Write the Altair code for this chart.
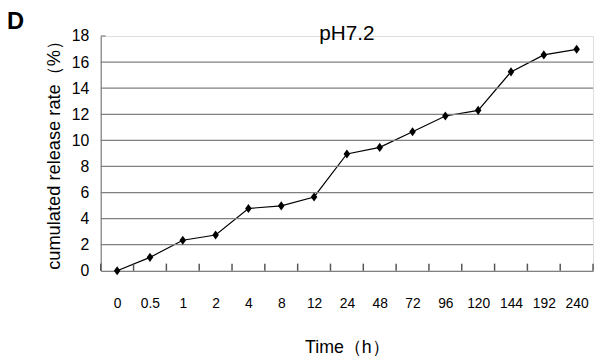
import altair as alt
import pandas as pd

categories = ["0", "0.5", "1", "2", "4", "8", "12", "24", "48", "72", "96", "120", "144", "192", "240"]
release = [0.0, 1.03, 2.34, 2.74, 4.78, 4.98, 5.66, 8.96, 9.46, 10.66, 11.87, 12.3, 15.25, 16.55, 16.98]
grid_values = [2, 4, 6, 8, 10, 12, 14, 16]
y_ticks = [0, 2, 4, 6, 8, 10, 12, 14, 16, 18]

n = len(categories)
idx = list(range(n))
df = pd.DataFrame({"i": idx, "time": categories, "rate": release})
bounds_df = pd.DataFrame({"i": [k - 0.5 for k in range(n + 1)], "rate": [0] * (n + 1)})
grid_df = pd.DataFrame({"rate": grid_values})
top_df = pd.DataFrame({"rate": [18]})

W, H = 499, 238
FONT = "Liberation Sans"
NARROW = "Liberation Sans Narrow, Liberation Sans"
GRAY = "#808080"

label_js = "[" + ",".join('"%s"' % c for c in categories) + "][datum.value]"

xscale = alt.Scale(domain=[-0.5, n - 0.5], nice=False, zero=False)
yscale = alt.Scale(domain=[0, 18], nice=False, zero=True)

x_axis = alt.Axis(title="Time（h）", values=idx, labelExpr=label_js, labelAngle=0,
                  labelFontSize=14, labelFont=FONT, labelColor="#000000",
                  labelPadding=26, labelOverlap=False, labelFlush=False, ticks=False,
                  domainColor=GRAY, domainWidth=1.2, titleFont=NARROW, titleFontSize=18,
                  titleFontWeight="normal", titleColor="#000000", titleY=83,
                  titleBaseline="alphabetic", grid=False)
y_axis = alt.Axis(title="cumulated release rate（%）", values=y_ticks, labelFontSize=16,
                  labelFont=FONT, labelColor="#000000", labelPadding=12, ticks=False,
                  labelOverlap=False, labelFlush=False,
                  domainColor=GRAY, domainWidth=1.2, grid=False, titleFont=FONT,
                  titleFontSize=18.5, titleFontWeight="normal", titleColor="#000000",
                  titleX=-48, titleY=116, titleAngle=-90, titleAlign="center",
                  titleBaseline="middle")

X = lambda: alt.X("i:Q", scale=xscale, axis=x_axis)
Y = lambda: alt.Y("rate:Q", scale=yscale, axis=y_axis)

line = alt.Chart(df).mark_line(color="#000000", strokeWidth=1.2).encode(x=X(), y=Y())

grid = alt.Chart(grid_df).mark_rule(color=GRAY, strokeWidth=1.3).encode(
    y=Y(), x=alt.value(0), x2=alt.value(W))

top_tick = alt.Chart(top_df).mark_rule(color=GRAY, strokeWidth=1.2).encode(
    y=Y(), x=alt.value(0), x2=alt.value(5))

xticks = alt.Chart(bounds_df).mark_rule(color="#555555", strokeWidth=1.5, opacity=1).encode(
    x=X(), y=Y(), y2=alt.Y2Datum(0.55))

points = alt.Chart(df).mark_point(shape="M0,-1L0.72,0L0,1L-0.72,0Z", filled=True,
                                  color="#000000", size=85, opacity=1).encode(x=X(), y=Y())

label_d = alt.Chart(pd.DataFrame({"t": ["D"]})).mark_text(
    font=FONT, fontSize=24, fontWeight="bold", align="left", baseline="alphabetic",
    color="#000000").encode(text="t:N", x=alt.value(-95), y=alt.value(-7))

title_t = alt.Chart(pd.DataFrame({"t": ["pH7.2"]})).mark_text(
    font=FONT, fontSize=21, align="center", baseline="alphabetic",
    color="#000000").encode(text="t:N", x=alt.value(W / 2), y=alt.value(4))

chart = alt.layer(line, grid, top_tick, xticks, points, label_d, title_t).properties(
    width=W, height=H,
    autosize=alt.AutoSizeParams(type="none"),
    padding={"left": 94, "top": 26, "right": 3, "bottom": 86},
).configure_view(stroke=None).configure(background="#ffffff")

chart.save("out.html", embed_options={"renderer": "svg", "actions": False})
